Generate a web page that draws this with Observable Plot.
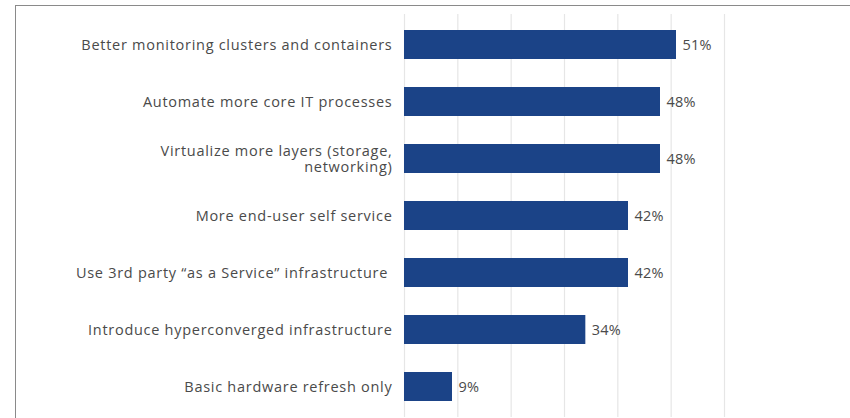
<!DOCTYPE html>
<html>
<head>
<meta charset="utf-8">
<script src="https://cdn.jsdelivr.net/npm/d3@7"></script>
<script src="https://cdn.jsdelivr.net/npm/@observablehq/plot@0.6"></script>
<style>
  html, body { margin: 0; padding: 0; background: #fff; }
  #wrap { position: relative; width: 850px; height: 418px; overflow: hidden; }
  #frame { position: absolute; left: 15px; top: 5px; right: -2px; bottom: -2px;
           border-top: 1px solid #8a8a8a; border-left: 1px solid #8a8a8a; pointer-events: none; }
  svg { font-family: "Open Sans", "Noto Sans", sans-serif; }
  svg g[aria-label="y-axis tick label"] { letter-spacing: 0.72px; }
  svg g[aria-label="text"] { letter-spacing: 0.2px; }
</style>
</head>
<body>
<div id="wrap"><div id="frame"></div></div>
<script>
const categories = [
  "Better monitoring clusters and containers",
  "Automate more core IT processes",
  "Virtualize more layers (storage,\nnetworking)",
  "More end-user self service",
  "Use 3rd party \u201cas a Service\u201d infrastructure\u00a0",
  "Introduce hyperconverged infrastructure",
  "Basic hardware refresh only"
];
const values = [51, 48, 48, 42, 42, 34, 9];
const gridTicks = [0, 10, 20, 30, 40, 50, 60];

const data = categories.map((c, i) => ({category: c, value: values[i]}));

const chart = Plot.plot({
  width: 850,
  height: 418,
  marginLeft: 404,
  marginRight: 126,
  marginTop: 14,
  marginBottom: 1,
  style: {fontSize: "14px", color: "#4a4a4a"},
  x: {domain: [0, 60], axis: null},
  y: {domain: categories, paddingInner: 0.5, paddingOuter: 0.25, label: null},
  marks: [
    Plot.ruleX(gridTicks, {stroke: "#e6e6e6", strokeWidth: 1.2}),
    Plot.barX(data, {x: "value", y: "category", fill: "#1b4387"}),
    Plot.text(data, {x: "value", y: "category", text: d => d.value + "%", textAnchor: "start", dx: 6, fill: "#4a4a4a", fontSize: 14.5}),
    Plot.axisY({tickSize: 0, tickPadding: 12, label: null, fill: "#4a4a4a", fontSize: 14.5, lineHeight: 1.05})
  ]
});
document.getElementById("wrap").prepend(chart);
</script>
</body>
</html>
